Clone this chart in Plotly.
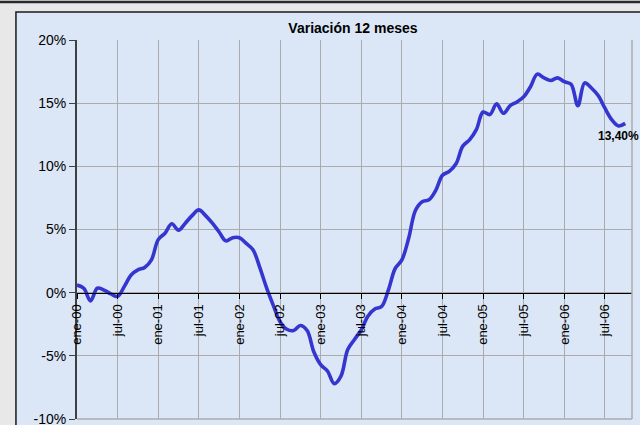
import plotly.graph_objects as go

# Monthly categories ene-00 .. oct-06
anios = [2000, 2001, 2002, 2003, 2004, 2005, 2006]
fechas = [f"{a}-{m:02d}" for a in anios for m in range(1, 13)][:82]

# 12-month variation (%)
variacion = [
    0.6, 0.35, -0.65, 0.35, 0.2, -0.1, -0.3, 0.5, 1.4, 1.8, 2.0, 2.6,
    4.2, 4.7, 5.45, 4.95, 5.5, 6.1, 6.55, 6.1, 5.5, 4.8, 4.1, 4.35,
    4.35, 3.9, 3.4, 2.0, 0.4, -1.0, -2.3, -2.9, -3.0, -2.6, -3.0, -4.7,
    -5.7, -6.2, -7.2, -6.6, -4.5, -3.7, -2.95, -1.85, -1.3, -1.1, 0.2, 1.9,
    2.6, 4.3, 6.5, 7.2, 7.35, 8.1, 9.3, 9.6, 10.2, 11.6, 12.1, 12.9,
    14.3, 14.1, 14.95, 14.2, 14.8, 15.1, 15.5, 16.3, 17.3, 17.0, 16.8, 17.0,
    16.7, 16.5, 14.8, 16.6, 16.2, 15.6, 14.6, 13.7, 13.2, 13.4,
]

tick_text = ["ene-00", "jul-00", "ene-01", "jul-01", "ene-02", "jul-02", "ene-03",
             "jul-03", "ene-04", "jul-04", "ene-05", "jul-05", "ene-06", "jul-06"]
tick_fechas = ["2000-01", "2000-07", "2001-01", "2001-07", "2002-01", "2002-07", "2003-01",
               "2003-07", "2004-01", "2004-07", "2005-01", "2005-07", "2006-01", "2006-07"]
y_ticks = [-10, -5, 0, 5, 10, 15, 20]
y_tick_text = ["-10%", "-5%", "0%", "5%", "10%", "15%", "20%"]

x = list(range(len(fechas)))
tick_vals = [fechas.index(f) for f in tick_fechas]

BLUE_BG = "#dbe7f6"
GRID = "#ababab"

fig = go.Figure()
fig.add_trace(go.Scatter(
    x=x, y=variacion, mode="lines",
    line=dict(color="#3535d0", width=3.6, shape="spline", smoothing=1.0),
    hoverinfo="skip", showlegend=False,
))

fig.add_annotation(
    x=x[-1], y=variacion[-1], text="<b>13,40%</b>", showarrow=False,
    xanchor="left", yanchor="top", xshift=-29, yshift=-4,
    font=dict(family="Arial, Liberation Sans", size=12, color="#000000"),
)

fig.update_layout(
    width=640, height=425,
    margin=dict(l=77, r=8, t=40, b=6, autoexpand=False),
    paper_bgcolor="#e8e8e8",
    plot_bgcolor=BLUE_BG,
    font=dict(family="Arial, Liberation Sans", size=13, color="#000000"),
    title=dict(text="<b>Variación 12 meses</b>", x=0.5515, xanchor="center",
               y=0.934, yanchor="middle", font=dict(size=14)),
    shapes=[
        # chart area frame
        dict(type="rect", xref="paper", yref="paper", x0=-0.11, x1=1.2,
             y0=-0.2, y1=1.0739, fillcolor=BLUE_BG,
             line=dict(color="#1a1a1a", width=1.5), layer="below"),
        # top dark rule
        dict(type="line", xref="paper", yref="paper", x0=-0.2, x1=1.2,
             y0=1.1005, y1=1.1005, line=dict(color="#2a2a2a", width=2.5), layer="below"),
        # right border of plot area
        dict(type="line", xref="paper", yref="paper", x0=1, x1=1, y0=0, y1=1,
             line=dict(color=GRID, width=1.5), layer="above"),
        # bottom border of plot area
        dict(type="line", xref="paper", yref="paper", x0=0, x1=1, y0=0, y1=0,
             line=dict(color=GRID, width=1.5), layer="above"),
    ],
    xaxis=dict(
        range=[0, 82], tickvals=tick_vals, ticktext=tick_text, tickangle=-90,
        showgrid=True, gridcolor=GRID, gridwidth=1, automargin=False,
        anchor="free", position=1/3, showline=True, linecolor="#000000", linewidth=1.5,
        ticks="outside", ticklen=5, tickcolor="#000000", zeroline=False,
        tickfont=dict(size=13),
    ),
    yaxis=dict(
        range=[-10, 20], tickvals=y_ticks, ticktext=y_tick_text, automargin=False,
        showgrid=True, gridcolor=GRID, gridwidth=1.2,
        showline=True, linecolor="#404040", linewidth=2,
        ticks="outside", ticklen=6, tickcolor="#404040", zeroline=False,
        tickfont=dict(size=14), ticklabeloverflow="allow",
    ),
)

fig.write_html(
    "out.html",
    config={"displayModeBar": False, "staticPlot": True},
    post_script="document.body.style.margin='0';document.body.style.overflow='hidden';",
)
